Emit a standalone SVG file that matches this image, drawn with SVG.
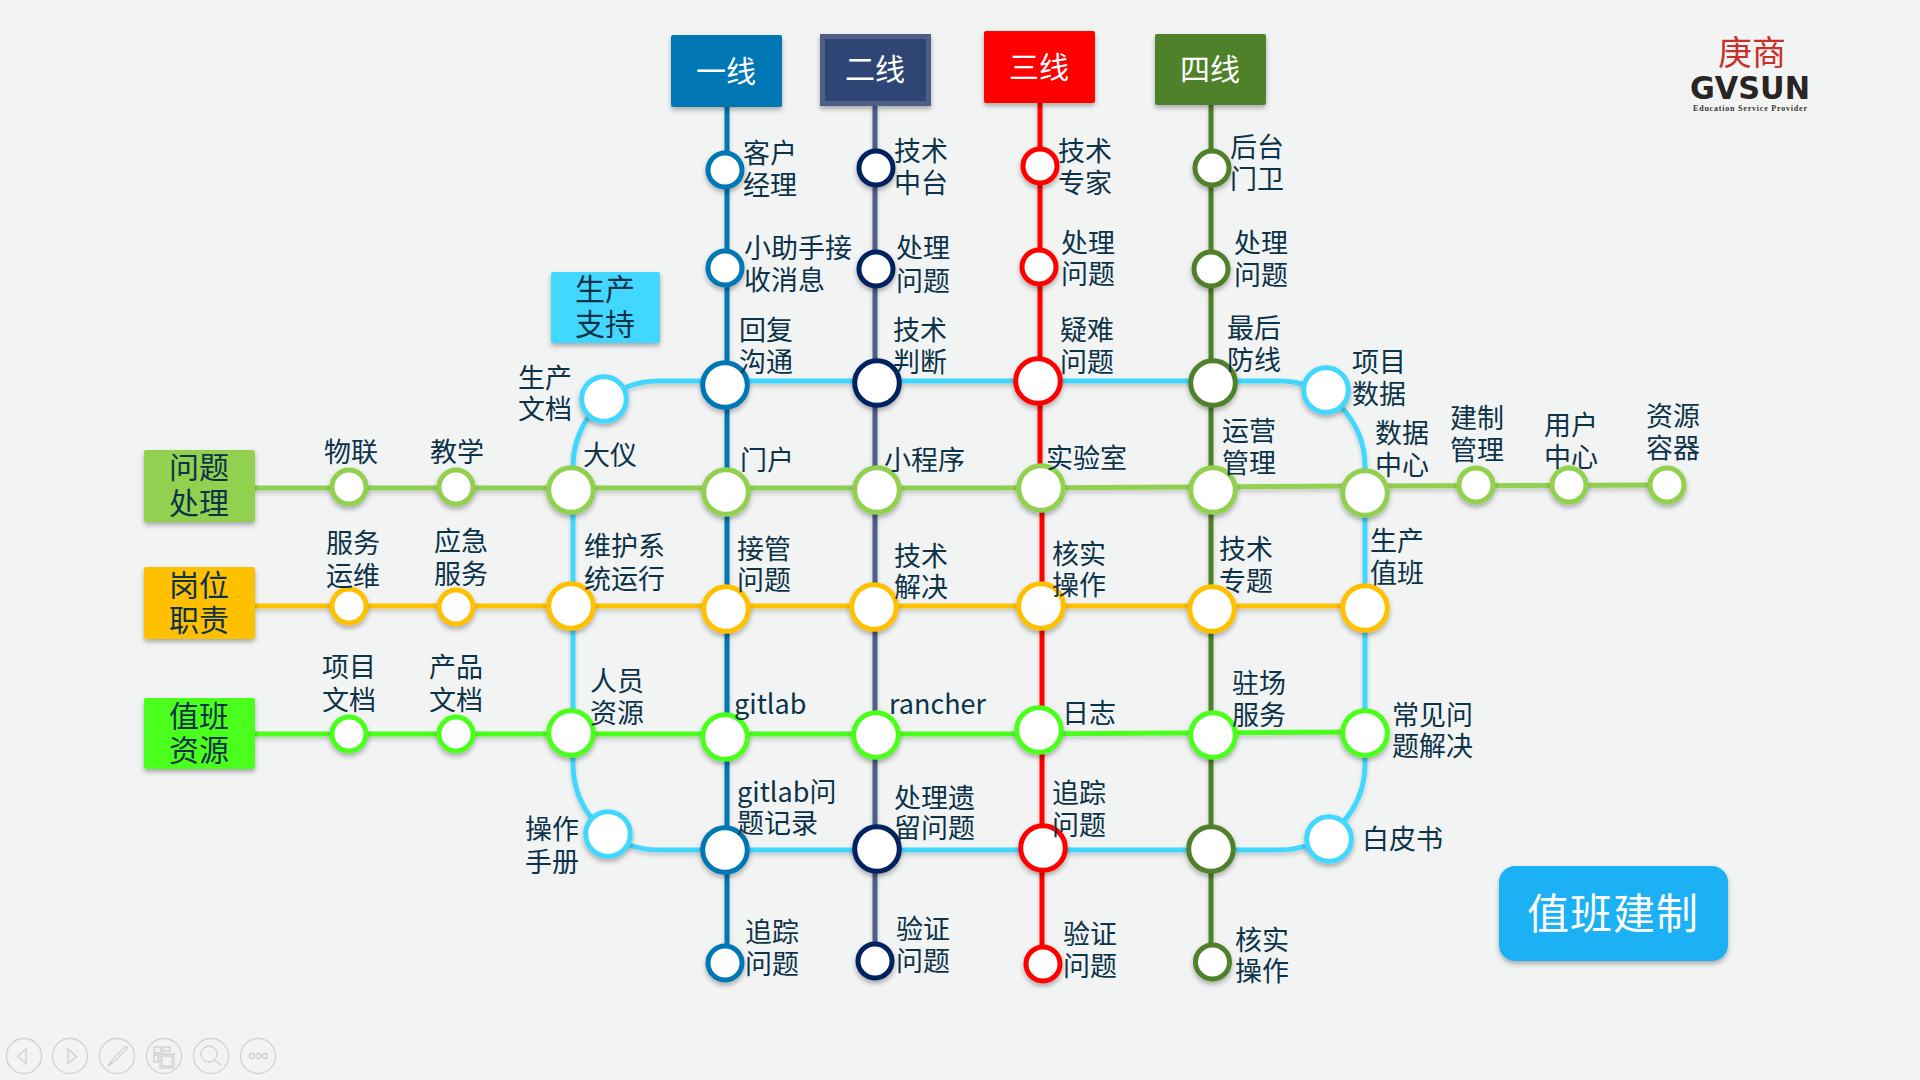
<svg xmlns="http://www.w3.org/2000/svg" width="1920" height="1080" viewBox="0 0 1920 1080">
<style>
text{font-family:"Noto Sans CJK SC","Noto Sans",sans-serif}
.t{font-size:27px;fill:#0d3349;transform:translate(-1px,0)}
.b{font-size:30px;fill:#0d3349;text-anchor:middle}
.h{font-size:30px;fill:#fff;text-anchor:middle}
.l{fill:none;stroke-width:5}
.s{fill:#fff;stroke-width:5;filter:url(#sh)}
.c1{stroke:#0177b5}.c2{stroke:#002060}.c3{stroke:#f00}.c4{stroke:#50802a}
.cb{stroke:#43d7ff}.cg{stroke:#92d050}.co{stroke:#ffc000}.cl{stroke:#4bff1a}
.tb{fill:none;stroke:#cfd2d2;stroke-width:1.3}
</style>
<defs>
<filter id="sh" x="-30%" y="-30%" width="160%" height="170%"><feDropShadow dx="0" dy="3" stdDeviation="2.5" flood-color="#000" flood-opacity="0.3"/></filter>
<filter id="lsh" x="-5%" y="-5%" width="110%" height="110%"><feDropShadow dx="0" dy="3" stdDeviation="2" flood-color="#000" flood-opacity="0.18"/></filter>
</defs>
<rect width="1920" height="1080" fill="#f2f4f4"/>
<g id="connectors" filter="url(#lsh)">
<rect class="l cb" x="573" y="381" width="792" height="469" rx="85" ry="85"/>
<path class="l c1" d="M727 107V963"/>
<path class="l" stroke="#4e5f86" d="M875 105V961"/>
<path class="l c3" d="M1040 103V490M1042 490V964"/>
<path class="l c4" d="M1211 105V962"/>
<path class="l cg" d="M255 488H1000L1365 486L1667 485"/>
<path class="l co" d="M255 606H1365"/>
<path class="l cl" d="M255 734H1000L1364 732"/>
</g>
<g id="line-heads">
<g id="h1"><rect x="671" y="35" width="111" height="72" rx="2" fill="#0177b5" filter="url(#sh)"/><text class="h" x="726" y="82">一线</text></g>
<g id="h2"><rect x="822.500" y="36.500" width="106" height="67" fill="#2f4476" stroke="#4e5f86" stroke-width="5" filter="url(#sh)"/><text class="h" x="875" y="80">二线</text></g>
<g id="h3"><rect x="984" y="31" width="111" height="72" rx="2" fill="#f00" filter="url(#sh)"/><text class="h" x="1039" y="78">三线</text></g>
<g id="h4"><rect x="1155" y="34" width="111" height="71" rx="2" fill="#50802a" filter="url(#sh)"/><text class="h" x="1210" y="80">四线</text></g>
<g id="r1"><rect x="144" y="450" width="111" height="72" rx="2" fill="#92d050" filter="url(#sh)"/><text class="b"><tspan x="199" y="478">问题</tspan><tspan x="199" y="514">处理</tspan></text></g>
<g id="r2"><rect x="144" y="567" width="111" height="72" rx="2" fill="#ffc000" filter="url(#sh)"/><text class="b"><tspan x="199" y="596">岗位</tspan><tspan x="199" y="631">职责</tspan></text></g>
<g id="r3"><rect x="144" y="698" width="111" height="71" rx="2" fill="#4bff1a" filter="url(#sh)"/><text class="b"><tspan x="199" y="727">值班</tspan><tspan x="199" y="761">资源</tspan></text></g>
<g id="support"><rect x="551" y="272" width="109" height="71" rx="2" fill="#43d7ff" filter="url(#sh)"/><text class="b"><tspan x="605" y="300">生产</tspan><tspan x="605" y="335">支持</tspan></text></g>
</g>
<g id="n-kehu"><circle class="s c1" cx="725" cy="170" r="17"/><text class="t"><tspan x="744" y="163">客户</tspan><tspan x="744" y="195">经理</tspan></text></g>
<g id="n-xiaozhu"><circle class="s c1" cx="725" cy="268" r="17"/><text class="t"><tspan x="745" y="258">小助手接</tspan><tspan x="745" y="290">收消息</tspan></text></g>
<g id="n-huifu"><circle class="s c1" cx="725" cy="385" r="22.300"/><text class="t"><tspan x="740" y="340">回复</tspan><tspan x="740" y="372">沟通</tspan></text></g>
<g id="n-menhu"><circle class="s cg" cx="726" cy="492" r="22.300"/><text class="t" x="741" y="470">门户</text></g>
<g id="n-jieguan"><circle class="s co" cx="726" cy="609" r="22.300"/><text class="t"><tspan x="738" y="559">接管</tspan><tspan x="738" y="590">问题</tspan></text></g>
<g id="n-gitlab"><circle class="s cl" cx="725" cy="737" r="22.300"/><text class="t" x="735" y="714">gitlab</text></g>
<g id="n-gitlabq"><circle class="s c1" cx="725" cy="850" r="22.300"/><text class="t"><tspan x="738" y="802">gitlab问</tspan><tspan x="738" y="833">题记录</tspan></text></g>
<g id="n-zhuizong1"><circle class="s c1" cx="725" cy="963" r="17"/><text class="t"><tspan x="746" y="942">追踪</tspan><tspan x="746" y="974">问题</tspan></text></g>
<g id="n-jishuzt"><circle class="s c2" cx="876" cy="168" r="17"/><text class="t"><tspan x="895" y="161">技术</tspan><tspan x="895" y="193">中台</tspan></text></g>
<g id="n-chuli2"><circle class="s c2" cx="876" cy="269" r="17"/><text class="t"><tspan x="897" y="258">处理</tspan><tspan x="897" y="291">问题</tspan></text></g>
<g id="n-panduan"><circle class="s c2" cx="877" cy="383" r="22.300"/><text class="t"><tspan x="894" y="340">技术</tspan><tspan x="894" y="372">判断</tspan></text></g>
<g id="n-xcx"><circle class="s cg" cx="877" cy="490" r="22.300"/><text class="t" x="885" y="470">小程序</text></g>
<g id="n-jiejue"><circle class="s co" cx="874" cy="607" r="22.300"/><text class="t"><tspan x="895" y="566">技术</tspan><tspan x="895" y="597">解决</tspan></text></g>
<g id="n-rancher"><circle class="s cl" cx="876" cy="735" r="22.300"/><text class="t" x="890" y="714">rancher</text></g>
<g id="n-yiliu"><circle class="s c2" cx="877" cy="849" r="22.300"/><text class="t"><tspan x="895" y="808">处理遗</tspan><tspan x="895" y="838">留问题</tspan></text></g>
<g id="n-yanzheng2"><circle class="s c2" cx="875" cy="961" r="17"/><text class="t"><tspan x="897" y="939">验证</tspan><tspan x="897" y="971">问题</tspan></text></g>
<g id="n-zhuanjia"><circle class="s c3" cx="1040" cy="166" r="17"/><text class="t"><tspan x="1059" y="161">技术</tspan><tspan x="1059" y="193">专家</tspan></text></g>
<g id="n-chuli3"><circle class="s c3" cx="1039" cy="267" r="17"/><text class="t"><tspan x="1062" y="253">处理</tspan><tspan x="1062" y="284">问题</tspan></text></g>
<g id="n-yinan"><circle class="s c3" cx="1038" cy="381" r="22.300"/><text class="t"><tspan x="1061" y="340">疑难</tspan><tspan x="1061" y="372">问题</tspan></text></g>
<g id="n-shiyan"><circle class="s cg" cx="1041" cy="488" r="22.300"/><text class="t" x="1047" y="468">实验室</text></g>
<g id="n-hesh1"><circle class="s co" cx="1041" cy="606" r="22.300"/><text class="t"><tspan x="1053" y="564">核实</tspan><tspan x="1053" y="595">操作</tspan></text></g>
<g id="n-rizhi"><circle class="s cl" cx="1039" cy="730" r="22.300"/><text class="t" x="1063" y="723">日志</text></g>
<g id="n-zhuizong3"><circle class="s c3" cx="1043" cy="848" r="22.300"/><text class="t"><tspan x="1053" y="803">追踪</tspan><tspan x="1053" y="835">问题</tspan></text></g>
<g id="n-yanzheng3"><circle class="s c3" cx="1043" cy="964" r="17"/><text class="t"><tspan x="1064" y="944">验证</tspan><tspan x="1064" y="976">问题</tspan></text></g>
<g id="n-houtai"><circle class="s c4" cx="1212" cy="168" r="17"/><text class="t"><tspan x="1231" y="157">后台</tspan><tspan x="1231" y="189">门卫</tspan></text></g>
<g id="n-chuli4"><circle class="s c4" cx="1211" cy="269" r="17"/><text class="t"><tspan x="1235" y="253">处理</tspan><tspan x="1235" y="285">问题</tspan></text></g>
<g id="n-zuihou"><circle class="s c4" cx="1213" cy="383" r="22.300"/><text class="t"><tspan x="1228" y="338">最后</tspan><tspan x="1228" y="370">防线</tspan></text></g>
<g id="n-yunying"><circle class="s cg" cx="1213" cy="490" r="22.300"/><text class="t"><tspan x="1223" y="441">运营</tspan><tspan x="1223" y="473">管理</tspan></text></g>
<g id="n-zhuanti"><circle class="s co" cx="1212" cy="609" r="22.300"/><text class="t"><tspan x="1220" y="559">技术</tspan><tspan x="1220" y="591">专题</tspan></text></g>
<g id="n-zhuchang"><circle class="s cl" cx="1213" cy="735" r="22.300"/><text class="t"><tspan x="1233" y="693">驻场</tspan><tspan x="1233" y="725">服务</tspan></text></g>
<g id="n-bottom4"><circle class="s c4" cx="1211" cy="849" r="22.300"/></g>
<g id="n-hesh2"><circle class="s c4" cx="1212.500" cy="962" r="17"/><text class="t"><tspan x="1236" y="950">核实</tspan><tspan x="1236" y="981">操作</tspan></text></g>
<g id="n-wl"><circle class="s cg" cx="349" cy="487" r="17"/><text class="t" x="325" y="462">物联</text></g>
<g id="n-jx"><circle class="s cg" cx="456" cy="487" r="17"/><text class="t" x="431" y="462">教学</text></g>
<g id="n-dayi"><circle class="s cg" cx="571" cy="490" r="22.300"/><text class="t" x="584" y="465">大仪</text></g>
<g id="n-fw"><circle class="s co" cx="349" cy="606" r="17"/><text class="t"><tspan x="327" y="553">服务</tspan><tspan x="327" y="586">运维</tspan></text></g>
<g id="n-yj"><circle class="s co" cx="456" cy="607" r="17"/><text class="t"><tspan x="435" y="551">应急</tspan><tspan x="435" y="584">服务</tspan></text></g>
<g id="n-wh"><circle class="s co" cx="571" cy="606" r="22.300"/><text class="t"><tspan x="585" y="556">维护系</tspan><tspan x="585" y="589">统运行</tspan></text></g>
<g id="n-xmwd"><circle class="s cl" cx="349" cy="734" r="17"/><text class="t"><tspan x="323" y="677">项目</tspan><tspan x="323" y="710">文档</tspan></text></g>
<g id="n-cpwd"><circle class="s cl" cx="456" cy="734" r="17"/><text class="t"><tspan x="430" y="677">产品</tspan><tspan x="430" y="710">文档</tspan></text></g>
<g id="n-ry"><circle class="s cl" cx="571" cy="733" r="22.300"/><text class="t"><tspan x="591" y="691">人员</tspan><tspan x="591" y="723">资源</tspan></text></g>
<g id="n-scwd"><circle class="s cb" cx="604" cy="399" r="22.300"/><text class="t"><tspan x="519" y="388">生产</tspan><tspan x="519" y="419">文档</tspan></text></g>
<g id="n-czsc"><circle class="s cb" cx="608" cy="834" r="22.300"/><text class="t"><tspan x="526" y="839">操作</tspan><tspan x="526" y="872">手册</tspan></text></g>
<g id="n-xmsj"><circle class="s cb" cx="1326" cy="390" r="22.300"/><text class="t"><tspan x="1353" y="372">项目</tspan><tspan x="1353" y="404">数据</tspan></text></g>
<g id="n-bps"><circle class="s cb" cx="1329" cy="839" r="22.300"/><text class="t" x="1363" y="849">白皮书</text></g>
<g id="n-sjzx"><circle class="s cg" cx="1365" cy="493" r="22.300"/><text class="t"><tspan x="1376" y="443">数据</tspan><tspan x="1376" y="475">中心</tspan></text></g>
<g id="n-jzgl"><circle class="s cg" cx="1476" cy="485" r="17"/><text class="t"><tspan x="1451" y="428">建制</tspan><tspan x="1451" y="460">管理</tspan></text></g>
<g id="n-yhzx"><circle class="s cg" cx="1569" cy="485" r="17"/><text class="t"><tspan x="1545" y="435">用户</tspan><tspan x="1545" y="467">中心</tspan></text></g>
<g id="n-zyrq"><circle class="s cg" cx="1667" cy="485" r="17"/><text class="t"><tspan x="1647" y="426">资源</tspan><tspan x="1647" y="458">容器</tspan></text></g>
<g id="n-sczb"><circle class="s co" cx="1365" cy="608" r="22.300"/><text class="t"><tspan x="1371" y="551">生产</tspan><tspan x="1371" y="583">值班</tspan></text></g>
<g id="n-cjwt"><circle class="s cl" cx="1365" cy="733" r="22.300"/><text class="t"><tspan x="1393" y="725">常见问</tspan><tspan x="1393" y="756">题解决</tspan></text></g>
<g id="title"><rect x="1499" y="866" width="229" height="95" rx="16" fill="#1fb0f5" filter="url(#sh)"/><text x="1613" y="929" font-size="42" fill="#fff" text-anchor="middle" letter-spacing="1">值班建制</text></g>
<g id="logo">
<text x="1752" y="65" font-size="34" fill="#c8302c" text-anchor="middle">庚商</text>
<text x="1750" y="99" font-size="32" fill="#2a2422" font-weight="bold" text-anchor="middle" style="font-family:'DejaVu Sans',sans-serif" textLength="120" lengthAdjust="spacingAndGlyphs">GVSUN</text>
<text x="1750" y="111" font-size="8" fill="#3a3432" text-anchor="middle" style="font-family:'Liberation Serif',serif" font-weight="bold" textLength="114" lengthAdjust="spacing">Education Service Provider</text>
</g>
<g id="toolbar">
<circle class="tb" cx="24" cy="1056" r="17.500"/><path class="tb" d="M26 1049L17.500 1056.500L26 1063.500Z"/>
<circle class="tb" cx="70" cy="1056" r="17.500"/><path class="tb" d="M68 1049L76.500 1056.500L68 1063.500Z"/>
<circle class="tb" cx="117" cy="1056" r="17.500"/><path class="tb" d="M108 1066L113 1059L125 1047Q128 1046 127 1049L115 1061Z"/>
<circle class="tb" cx="164" cy="1056" r="17.500"/><path class="tb" d="M154 1047h7v6h-7zM163 1047h7v4h-7zM154 1055h4v7h-4zM160 1054h14v14h-14zM162 1056h10v10h-10z"/>
<circle class="tb" cx="211" cy="1056" r="17.500"/><circle class="tb" cx="209" cy="1054" r="8"/><path class="tb" d="M214.500 1060L221 1065.500"/>
<circle class="tb" cx="258" cy="1056" r="17.500"/><circle class="tb" cx="252" cy="1056" r="2.500"/><circle class="tb" cx="258.500" cy="1056" r="2.500"/><circle class="tb" cx="265" cy="1056" r="2.500"/>
</g>
</svg>
